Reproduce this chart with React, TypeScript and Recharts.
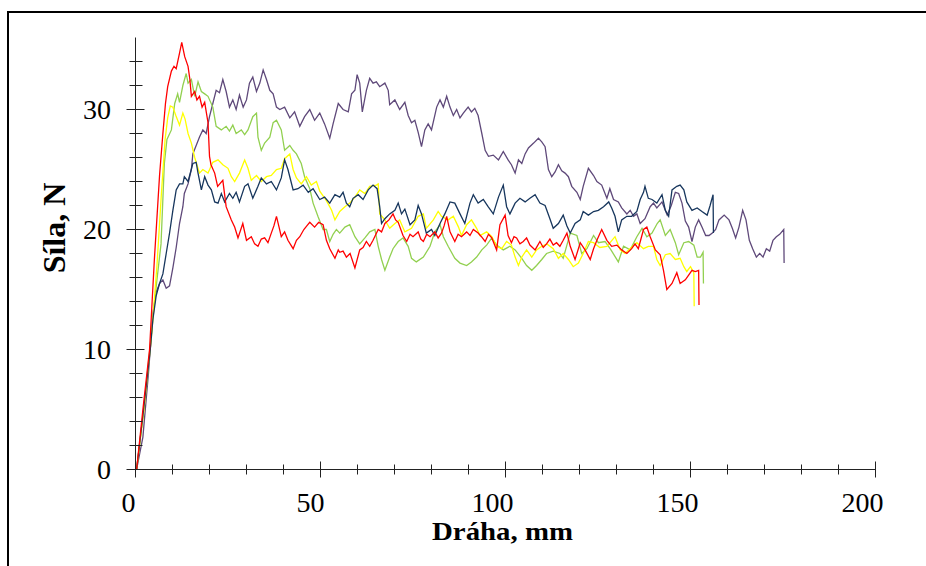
import { LineChart, Line, XAxis, YAxis } from "recharts";

// force (N) vs travel (mm), five test runs
const redPts: [number, number][] = [
  [0.3, 0], [2, 5], [3.8, 10], [5.1, 17.5], [5.6, 20], [6.5, 24.5], [7.4, 28], [8.1, 30.5], [8.7, 31.9],
  [9.7, 33.2], [10.4, 33.6], [11, 33.4], [11.9, 34.7], [12.5, 35.6], [13.3, 34.4], [14.2, 33.6], [14.7, 32.5],
  [15.1, 31.1], [16, 31.5], [16.6, 30.8], [17.3, 31.1], [18, 30.2], [18.7, 30.6], [19.6, 28.9], [20, 26.1],
  [20.4, 25.4], [21.4, 24.7], [22.2, 23.6], [23.6, 24.1], [24.5, 21.9], [25.9, 20.8], [26.8, 20.2], [27.7, 19.3],
  [29, 20.5], [30, 19.1], [31.3, 19.4], [32.2, 18.8], [33.1, 18.6], [34, 19.2], [34.9, 19.3], [35.8, 18.9],
  [36.7, 19.7], [37.4, 20.3], [38.1, 21.1], [38.8, 20.2], [39.4, 19.4], [40.3, 19.8], [41.2, 19.1], [42.6, 18.4],
  [43.5, 19.1], [44.4, 19.4], [45.5, 20], [46.3, 20.3], [47.1, 20.6], [48.4, 20.2], [49.5, 20.6], [50.7, 20.4],
  [51.6, 19.1], [52.5, 18.4], [53.9, 17.6], [54.8, 18.3], [55.2, 18.1], [56.1, 18.2], [57, 17.7], [58, 18],
  [59.3, 16.8], [60.6, 18.3], [61.5, 18.5], [62.4, 19], [63.3, 18.6], [64.2, 19.1], [65.6, 20], [66.5, 19.8],
  [67.4, 20.5], [68.5, 20.8], [69.6, 21.3], [70.3, 20.8], [71, 20.6], [72.3, 19.5], [73.3, 19], [74.2, 19.6],
  [75, 19.4], [76.4, 19.8], [77.1, 19.2], [77.8, 19], [78.7, 19.6], [79.6, 19.4], [80.9, 19.8], [81.8, 19.3],
  [82.7, 19.7], [83.4, 20.3], [84.1, 21.1], [85, 19.8], [86.3, 19], [87.2, 19.6], [88.1, 19.4], [89.5, 19.8],
  [90.4, 19.5], [91.3, 20], [92.6, 19.7], [93.5, 19.4], [94.5, 19], [95.4, 19.6], [96.3, 19.3], [97.6, 18.3],
  [98.5, 20.4], [99.9, 21.2], [100.7, 19.5], [101.6, 18.9], [102.3, 19.4], [103, 19.3], [103.9, 18.8], [104.8, 19],
  [105.7, 19.3], [106.6, 18.7], [108, 18.3], [109.3, 19], [110.2, 18.5], [111.1, 18.8], [112, 19.2], [112.9, 18.7],
  [113.8, 18.9], [114.7, 18.6], [115.6, 19.1], [116.6, 19.7], [117.5, 18.6], [118.8, 17.5], [120.2, 18.9],
  [121.5, 18.3], [122.9, 17.5], [123.8, 18.4], [124.7, 19.1], [126, 20], [127.4, 19.1], [128.7, 18.6],
  [130.1, 18.7], [131.4, 18.3], [132.8, 18], [134.1, 18.4], [135, 18.8], [135.9, 18.4], [137.3, 20], [138.2, 20.2],
  [139.1, 19.4], [140.5, 18.3], [141.8, 17.9], [142.7, 16.6], [143.6, 15], [145, 15.5], [146.3, 16.4],
  [147.2, 15.5], [148.6, 15.8], [149.5, 16.2], [150.4, 16.6], [151.3, 16.5], [152.2, 16.6], [152.3, 13.7],
];

const greenPts: [number, number][] = [
  [0.3, 0], [2.2, 5], [4.2, 11], [5.5, 15], [6.9, 18.8], [7.8, 25.5], [8.5, 27.5], [9.7, 28.3], [10.6, 30.5],
  [11.4, 31.3], [11.9, 30.6], [12.8, 32], [13.7, 33], [14.2, 32.2], [15.1, 32.5], [16, 31.1], [16.9, 32.3],
  [17.8, 31.5], [18.7, 31.3], [19.6, 31.1], [20.9, 30.2], [21.8, 28.6], [23.2, 28.3], [24.5, 28.6], [25.4, 28.2],
  [26.3, 28.7], [27.2, 28], [28.6, 28.3], [29.5, 27.9], [30.4, 28.3], [31.7, 29.4], [32.7, 29.7], [33.1, 27.7],
  [34, 26.6], [34.9, 27.2], [36.3, 27.7], [37.2, 28.9], [38.1, 29.1], [39.4, 28.3], [40.3, 26.6], [41.7, 27],
  [42.6, 26.6], [43.5, 26.3], [44.8, 25.5], [45.7, 24.4], [47.1, 23.4], [48, 22.2], [49.3, 21.1], [50.7, 20],
  [51.6, 20], [52.5, 19], [53.4, 19.6], [54.3, 20], [55.2, 19.7], [56.6, 20.2], [57.9, 20.4], [59.3, 19.4],
  [60.6, 18.8], [62, 19.3], [63.3, 19.8], [64.7, 20], [65.6, 18.6], [66.5, 17.5], [67.4, 16.6], [68.7, 17.7],
  [69.6, 18.4], [71, 19], [72.3, 19.3], [73.7, 18.6], [74.6, 17.6], [75.9, 17.3], [77.8, 17.7], [79.6, 18.6],
  [80.9, 19.8], [82.3, 20.4], [83.2, 19.4], [84.5, 18.6], [86.3, 17.6], [87.7, 17.2], [89.5, 17], [90.8, 17.3],
  [92.2, 17.7], [93.6, 18.3], [94.9, 18.7], [96.3, 19.3], [97.6, 18.7], [99.4, 18.3], [101.2, 18.6], [102.6, 18.3],
  [104.4, 17.6], [105.7, 17], [107.1, 16.6], [108.4, 17], [109.8, 17.5], [111.1, 18], [112.9, 18.2], [114.7, 18],
  [115.6, 17.6], [116.5, 18.6], [117.5, 19.7], [119.3, 19.5], [120.6, 18], [122, 18.4], [123.8, 19.5],
  [125.1, 18.9], [126.9, 19], [128.5, 18.3], [130.5, 17.3], [131.9, 18.6], [133.7, 18.3], [135.5, 19.4],
  [136.9, 20.1], [138.2, 19.4], [139.6, 19.7], [141, 20.5], [141.8, 20.8], [143.2, 19.5], [144.5, 20],
  [145.9, 18.9], [146.8, 17.9], [148.2, 18.9], [149.5, 19], [150.9, 18.7], [151.8, 17.7], [152.7, 17.7],
  [153.4, 18.1], [153.5, 15.5],
];

const yellowPts: [number, number][] = [
  [0.3, 0], [2.3, 5], [4.3, 11], [5.8, 17], [7, 23], [8, 27.5], [8.7, 29.3], [9.4, 30.3], [10.1, 30.2],
  [10.9, 29.5], [11.9, 28.7], [12.8, 29.7], [13.4, 29.2], [14.2, 28], [15.1, 27.2], [16, 26], [17.3, 24.7],
  [18.2, 25], [19.6, 24.7], [20.9, 25.6], [22.3, 25.8], [23.6, 25.4], [25, 25.1], [25.9, 24.4], [26.8, 24],
  [28.1, 24.7], [29.5, 25.8], [30.4, 25.1], [31.3, 24.1], [32.7, 24.5], [34, 24], [35.4, 24.4], [36.7, 24.5],
  [38.1, 25], [39.4, 25.1], [40.3, 25.9], [41.7, 26.3], [42.6, 25], [43.5, 24.3], [44.8, 23.8], [46.2, 24.4],
  [47.5, 23.7], [48.9, 24], [49.8, 23.2], [51.6, 22.4], [53, 21.6], [53.9, 20.8], [55.2, 21.5], [56.6, 21.9],
  [57.9, 22.2], [59.3, 22.7], [60.6, 23.3], [62, 23], [63.3, 23.6], [65.1, 23.7], [65.6, 23.8], [66, 21.3],
  [67.4, 20.8], [68.7, 20.1], [70.1, 20.5], [71.4, 20.8], [72.8, 19.8], [74.6, 20.1], [76.4, 21.1], [77.8, 21.3],
  [78.6, 20.1], [80.5, 20.8], [81.8, 21.5], [82.7, 21.1], [84.5, 20.8], [85.9, 21.1], [87.3, 20.2], [88.1, 19.5],
  [89.5, 20.4], [90.8, 20.8], [92.2, 20.1], [93.1, 19.5], [94.9, 19.8], [96.3, 19.4], [97.6, 18.6], [99, 18.4],
  [100.3, 19], [101.6, 18.7], [102.6, 17.7], [103.5, 17], [104.4, 17.7], [105.7, 18.3], [107.1, 17.7],
  [108.4, 18.3], [109.8, 18.6], [111.2, 18.8], [112.9, 18.4], [114.3, 17.6], [115.6, 18], [117, 17.5],
  [118.3, 16.9], [119.7, 17.2], [121, 18], [122.4, 19], [123.8, 18.9], [125.5, 18.5], [127.4, 18.6],
  [129.6, 19.4], [131, 18.3], [132.3, 18], [134, 18.5], [135.5, 18.9], [137.3, 18.4], [138.6, 18.6], [140, 18.6],
  [140.9, 17.5], [141.8, 17], [143.2, 17.9], [144.5, 18], [145.9, 17.5], [147.2, 17.6], [148.2, 16.9], [149, 16.5],
  [150, 16.9], [150.9, 16.4], [151, 13.6],
];

const navyPts: [number, number][] = [
  [0.3, 0], [2, 4.5], [4, 10], [4.7, 12.5], [5.6, 14.5], [6.5, 15.5], [7.4, 16.3], [8.3, 18], [9.2, 19.7],
  [10.1, 21.6], [11, 23.3], [11.9, 23.8], [12.8, 23.8], [13.2, 24.4], [14.2, 24], [15.5, 25.5], [16.4, 25.6],
  [16.9, 24.7], [17.8, 23.3], [18.7, 24.4], [19.6, 23.7], [20.5, 23.3], [21.4, 22.3], [22.3, 22.2], [23.2, 23],
  [24.1, 22.3], [25.4, 23], [26.3, 22.6], [27.2, 23.1], [28.1, 22.3], [29.5, 23.6], [30.4, 23.8], [31.7, 22.6],
  [33.1, 23.6], [34, 24.3], [35.4, 23.8], [36.7, 24], [38.1, 23.3], [39.4, 24.3], [40.3, 25.8], [41.2, 25],
  [42.6, 23.3], [43.9, 23.4], [45.3, 23.7], [46.7, 23.1], [48, 23.4], [49.8, 22.5], [51.1, 22.7], [52.5, 22.2],
  [53.9, 22.9], [55.2, 22.7], [56.1, 23.1], [57, 22.2], [57.9, 21.9], [58.8, 22.6], [60.2, 22.9], [61.5, 22.5],
  [62.9, 23.3], [64.2, 23.7], [65.3, 23.4], [66, 21.9], [66.5, 20.5], [67.4, 20.9], [68.7, 21.3], [70.1, 21.6],
  [71, 22.2], [71.9, 21.3], [72.8, 21.7], [74.2, 20.4], [75.5, 20.8], [76.4, 22], [77.3, 21.3], [78.6, 19.7],
  [80, 20], [80.9, 19.5], [82.3, 20.5], [83.6, 21.3], [85, 22.3], [86.3, 22.2], [87.7, 21.3], [89, 20.5],
  [90.4, 22.2], [91.3, 22.9], [92.6, 22.2], [94, 22.5], [95.3, 21.9], [96.7, 21.3], [98.1, 22.7], [99.4, 23.7],
  [100.3, 21.9], [101.2, 21.3], [102.6, 22.2], [103.9, 22.6], [105.3, 22.3], [106.6, 22.6], [108, 22.9],
  [109.3, 22.2], [110.7, 22], [112, 20.9], [112.9, 20.1], [114.3, 20.5], [115.6, 21.2], [116.6, 20.3],
  [117.5, 19.7], [118.8, 20.5], [120.2, 20.8], [121, 21.5], [122.4, 21.2], [123.8, 21.5], [125.1, 21.6],
  [126.5, 21.9], [127.9, 22.3], [128.7, 21.8], [129.6, 21.1], [130.5, 19.8], [131.4, 20.8], [132.8, 21.1],
  [134.1, 21.1], [135.5, 21.5], [136.4, 22.5], [137.3, 23.1], [137.7, 23.6], [138.6, 22.6], [139.6, 22.5],
  [140.9, 22.2], [142.3, 22.9], [143.2, 21.6], [144.1, 21.1], [145, 23.3], [146.3, 23.6], [147.2, 23.7],
  [148.2, 23.3], [149, 22.3], [150.4, 21.6], [151.8, 21.8], [153.1, 21.5], [154.5, 21.2], [155.3, 22],
  [156.1, 22.9], [156.2, 19.7],
];

const purplePts: [number, number][] = [
  [0.3, 0], [2, 2.7], [3.5, 8], [4.7, 13], [5.6, 14.8], [6.5, 15.5], [7.4, 15.8], [8.3, 15.1], [9.2, 15.3],
  [10.1, 16.8], [11, 18.5], [11.9, 20.5], [12.8, 21.9], [13.2, 23], [14.2, 23.8], [15.1, 25], [15.5, 26.3],
  [16.4, 27], [17.3, 27.7], [18.2, 28.3], [19.1, 28], [20, 29.4], [20.9, 30.5], [21.8, 31.6], [22.7, 31.4],
  [23.6, 32.5], [24.5, 31.5], [25.4, 30.2], [26.3, 30.8], [27.2, 30], [28.1, 31.2], [29.1, 30.2], [30, 30.8],
  [30.8, 32.2], [31.7, 32.7], [32.7, 31.5], [33.6, 32.2], [34.5, 33.3], [35.4, 32.5], [36.3, 31.6], [37.2, 31.3],
  [38.1, 30.2], [39, 30], [40.3, 30.2], [41.7, 29.3], [43, 29.8], [44.4, 28.6], [45.7, 29.4], [47.1, 30],
  [48.4, 29.1], [49.8, 29.7], [51.1, 28.8], [52.5, 27.6], [53.4, 28.8], [54.8, 30.5], [56.1, 30], [57.5, 29.8],
  [58.4, 31.3], [59.3, 31.6], [59.9, 32.9], [60.6, 32.2], [61.3, 29.8], [62.4, 31.6], [63.3, 32.6], [64.2, 32.2],
  [65.1, 32.3], [66, 31.9], [67.4, 32.2], [68.3, 31.6], [68.7, 30.4], [70.1, 30.8], [71.4, 30], [72.8, 30.6],
  [73.7, 29.5], [74.6, 28.9], [75.5, 29.1], [76.4, 28.1], [77.3, 26.9], [78.2, 28.3], [79.1, 28.8], [80, 28.3],
  [81.4, 30.2], [82.3, 30.8], [83.2, 30.2], [84.1, 31.1], [85, 30.2], [85.9, 29.5], [86.8, 30], [87.7, 29.3],
  [88.6, 29.7], [89.9, 30.2], [90.8, 29.8], [91.7, 30.1], [92.6, 29.5], [93.6, 28], [94.5, 26.6], [95.4, 26.1],
  [96.7, 26.2], [98.1, 25.8], [99.4, 26.5], [100.7, 25.8], [101.6, 25.4], [102.6, 24.7], [103.5, 25.8],
  [104.4, 25.5], [105.3, 26.3], [106.2, 26.8], [107.6, 27.2], [108.9, 27.6], [109.8, 27.3], [110.7, 26.9],
  [111.6, 25], [112.5, 24.4], [113.4, 24.8], [114.3, 25.4], [115.2, 24.9], [116.1, 24.7], [117, 24.4],
  [117.9, 23.6], [119.3, 23.1], [120.2, 22.5], [121, 23.6], [122.4, 25.1], [123.8, 24.5], [124.7, 24], [126, 23.7],
  [127.4, 22.6], [128.2, 23.4], [129.2, 22.5], [130.5, 22.3], [131.4, 21.8], [132.8, 21.3], [133.7, 21.6],
  [134.6, 21.1], [135.5, 21.3], [136.4, 20.5], [137.7, 20.9], [139.1, 21.9], [140, 22.2], [140.9, 21.8],
  [142.3, 22.3], [143.7, 21.2], [144.8, 22], [145.9, 23.1], [146.8, 23], [147.7, 22.2], [148.6, 20.7],
  [149.5, 20.2], [150.4, 19], [151.3, 20.2], [152.2, 20.8], [153.1, 20.2], [154.1, 19.5], [155, 19.5],
  [155.9, 19.7], [156.8, 20], [157.7, 20.8], [159.1, 21.2], [160.4, 20.8], [161.3, 20.1], [162.2, 19.3],
  [163.1, 20.2], [164.1, 21.6], [165, 20.8], [165.9, 19.1], [166.8, 18.4], [167.8, 17.7], [168.7, 18],
  [169.6, 17.7], [170.5, 18.4], [171.4, 18.2], [172.3, 19.1], [173.2, 19.4], [174.1, 19.6], [175.2, 20],
  [175.3, 17.2],
];

const xTicks = [0, 10, 20, 30, 40, 50, 60, 70, 80, 90, 100, 110, 120, 130, 140, 150, 160, 170, 180, 190, 200];
const yTicks = [0, 2, 4, 6, 8, 10, 12, 14, 16, 18, 20, 22, 24, 26, 28, 30, 32, 34];

const series = [
  { key: "purple", color: "#5F497A", pts: purplePts },
  { key: "green", color: "#92D050", pts: greenPts },
  { key: "yellow", color: "#FFFF00", pts: yellowPts },
  { key: "navy", color: "#17365D", pts: navyPts },
  { key: "red", color: "#FF0000", pts: redPts },
];

const FONT = "'Liberation Serif', 'Times New Roman', serif";
const AXIS = "#222";

function XTick({ x, y, payload }: any) {
  const v = payload.value;
  const major = v % 50 === 0;
  const h = major ? 8 : 5;
  const label = String(v);
  return (
    <g>
      <line x1={x} x2={x} y1={y - h} y2={y + h} stroke={AXIS} />
      {major && (
        <text x={x - 7 - 3 * (label.length - 1)} y={y + 42.5} textAnchor="middle" fontFamily={FONT} fontSize={28} fill="#000">
          {label}
        </text>
      )}
    </g>
  );
}

function YTick({ x, y, payload }: any) {
  const v = payload.value;
  const major = v % 10 === 0;
  return (
    <g>
      <line x1={x - (major ? 9 : 6)} x2={x + (major ? 9 : 7)} y1={y} y2={y} stroke={AXIS} />
      {major && (
        <text x={111} y={y + 9.5} textAnchor="end" fontFamily={FONT} fontSize={28} fill="#000">
          {v}
        </text>
      )}
    </g>
  );
}

export default function App() {
  return (
    <div style={{ position: "fixed", left: 0, top: 0, width: 926, height: 566, overflow: "hidden", background: "#fff" }}>
      <div style={{ position: "absolute", left: 7, top: 11, width: 1000, height: 700, border: "2px solid #000" }} />
      <div style={{ position: "absolute", left: 0, top: 0 }}>
        <LineChart width={926} height={566} margin={{ top: 37.5, right: 50.5, bottom: 95.5, left: 134.5 }}>
          <XAxis
            type="number"
            dataKey="x"
            domain={[0, 200]}
            ticks={xTicks}
            interval={0}
            height={1}
            tickSize={0}
            tickMargin={0}
            tickLine={false}
            axisLine={{ stroke: AXIS }}
            tick={<XTick />}
            allowDataOverflow
          />
          <YAxis
            type="number"
            dataKey="y"
            domain={[0, 36]}
            ticks={yTicks}
            interval={0}
            width={1}
            tickSize={0}
            tickMargin={0}
            tickLine={false}
            axisLine={{ stroke: AXIS }}
            tick={<YTick />}
            allowDataOverflow
          />
          {series.map((s) => (
            <Line
              key={s.key}
              data={s.pts.map(([x, y]) => ({ x, y }))}
              dataKey="y"
              type="linear"
              stroke={s.color}
              strokeWidth={1.3}
              dot={false}
              activeDot={false}
              isAnimationActive={false}
            />
          ))}
        </LineChart>
      </div>
      <svg width={926} height={566} style={{ position: "absolute", left: 0, top: 0, pointerEvents: "none" }}>
        <text
          x={432}
          y={540}
          textLength={141}
          lengthAdjust="spacingAndGlyphs"
          fontFamily={FONT}
          fontSize={25}
          fontWeight="bold"
          fill="#000"
        >
          Dráha, mm
        </text>
        <text
          x={0}
          y={0}
          transform="translate(65 228) rotate(-90)"
          textAnchor="middle"
          fontFamily={FONT}
          fontSize={32}
          fontWeight="bold"
          fill="#000"
        >
          Síla, N
        </text>
      </svg>
    </div>
  );
}
